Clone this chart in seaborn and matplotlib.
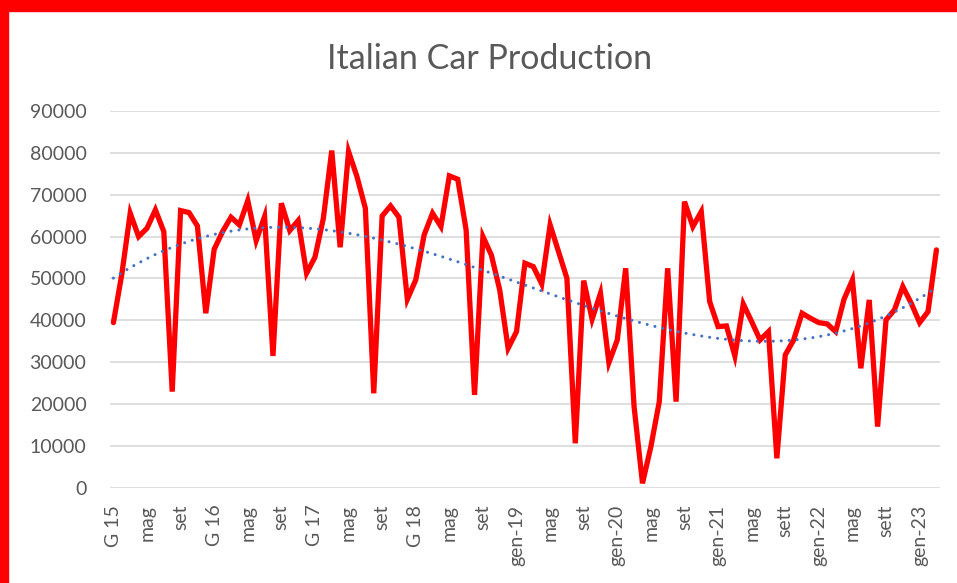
import numpy as np
import pandas as pd
import seaborn as sns
import matplotlib.pyplot as plt
from matplotlib.patches import Rectangle

# monthly production, Jan 2015 .. Mar 2023
production = [39450, 51000, 65560, 59980, 61970, 66350, 61180, 22990, 66190, 65710, 62530, 41690,
              56960, 61180, 64600, 62770, 68580, 59030, 64760, 31500, 67940, 61420, 63800, 51240,
              55060, 64360, 80500, 57440, 80270, 74300, 66750, 22590, 64900, 67300, 64600, 45030,
              49640, 60380, 65560, 62370, 74460, 73670, 61570, 22200, 59980, 55610, 47250, 33340,
              37300, 53630, 52820, 48690, 62770, 56400, 50040, 10660, 49480, 40260, 46460, 29910,
              35320, 52420, 19410, 1110, 9860, 20600, 52420, 20600, 68330, 62370, 65940, 44470,
              38500, 38660, 31500, 43910, 39700, 35320, 37300, 7080, 31740, 35320, 41690, 40500,
              39450, 39140, 37300, 45030, 49640, 28560, 44870, 14640, 40100, 42480, 48050, 44080,
              39450, 42080, 56800]
tick_labels = ["G 15", "mag", "set", "G 16", "mag", "set", "G 17", "mag", "set", "G 18", "mag", "set",
               "gen-19", "mag", "set", "gen-20", "mag", "set", "gen-21", "mag", "sett", "gen-22", "mag",
               "sett", "gen-23"]

df = pd.DataFrame({"month": np.arange(len(production)), "cars": production})
# Excel-style polynomial (order 3) trendline
coef = np.polyfit(df["month"], df["cars"], 3)
df["trend"] = np.polyval(coef, df["month"])

sns.set_style("white")
plt.rcParams['font.family'] = ['Lato', 'DejaVu Sans']
text_col = "#595959"

fig = plt.figure(figsize=(9.57, 5.83), dpi=100)
ax = fig.add_axes([0.115, 0.163, 0.867, 0.647])

sns.lineplot(data=df, x="month", y="cars", ax=ax, color="#FF0000", linewidth=3.8,
             solid_joinstyle="miter", zorder=3)
sns.lineplot(data=df, x="month", y="trend", ax=ax, color="#4472C4", linewidth=2.2,
             linestyle=(0, (0.01, 2.6)), dash_capstyle="round", zorder=4)

ax.set_xlim(-0.4, len(production) - 0.6)
ax.set_ylim(0, 90000)
ax.set_yticks(range(0, 90001, 10000))
ax.set_xticks(range(0, 4 * len(tick_labels), 4))
ax.set_xticklabels(tick_labels, rotation=90)
ax.tick_params(axis="both", length=0, labelsize=14, labelcolor=text_col)
ax.tick_params(axis="y", pad=17)
ax.tick_params(axis="x", pad=12)
ax.grid(axis="y", color="#D9D9D9", linewidth=1.2)
ax.set_axisbelow(True)
for s in ax.spines.values():
    s.set_visible(False)
ax.set_xlabel("")
ax.set_ylabel("")

fig.text(0.512, 0.899, "Italian Car Production", ha="center", va="center",
         fontsize=24.5, color=text_col)

# red frame on top and left of the image
fig.patches.append(Rectangle((0, 1 - 11 / 583), 1, 11 / 583, transform=fig.transFigure,
                             color="#FF0000", zorder=10))
fig.patches.append(Rectangle((0, 0), 8 / 957, 1, transform=fig.transFigure,
                             color="#FF0000", zorder=10))

fig.savefig("out.png", dpi=100)
